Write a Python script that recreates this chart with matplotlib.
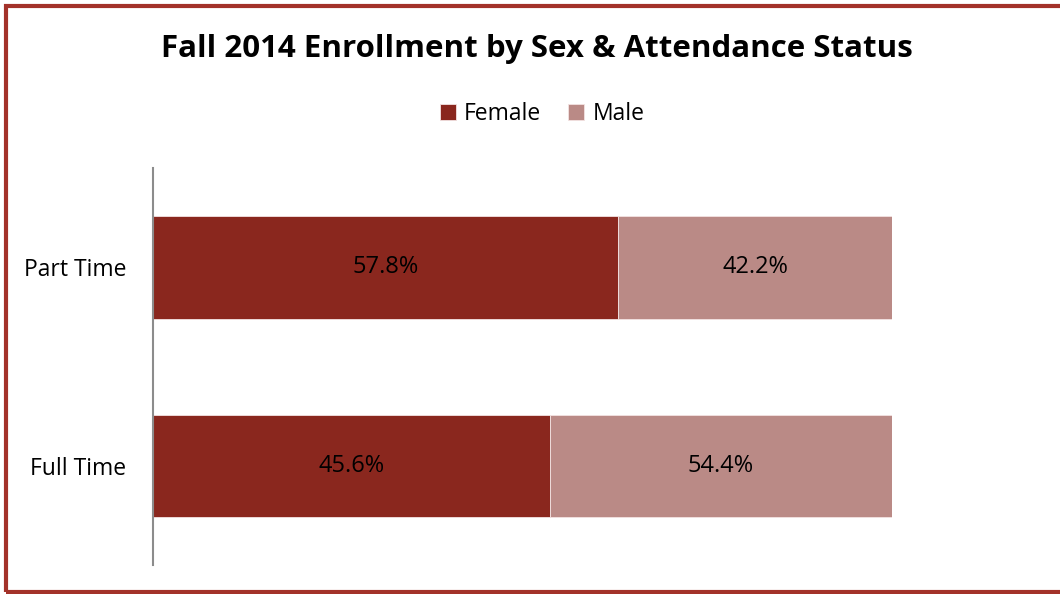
import matplotlib.pyplot as plt
from matplotlib.patches import Rectangle
import numpy as np

categories = ['Full Time', 'Part Time']
# bar lengths as drawn in the picture (share of the full bar)
female_share = [53.7, 63.0]
male_share = [46.3, 37.0]
# printed labels
female_labels = ['45.6%', '57.8%']
male_labels = ['54.4%', '42.2%']

female_color = '#8A271E'
male_color = '#BA8A86'

plt.rcParams['font.family'] = ['Open Sans', 'DejaVu Sans']

fig = plt.figure(figsize=(10.6, 5.94), dpi=100)
ax = fig.add_axes([0.1443, 0.0488, 0.697, 0.668])

y = np.arange(len(categories))
h = 0.515
b1 = ax.barh(y, female_share, height=h, color=female_color, label='Female',
             edgecolor='#F3E3E2', linewidth=0.6)
b2 = ax.barh(y, male_share, left=female_share, height=h, color=male_color, label='Male',
             edgecolor='#F3E3E2', linewidth=0.6)

for i in range(len(categories)):
    ax.text(female_share[i] / 2, y[i], female_labels[i], ha='center', va='center', fontsize=17)
    ax.text(female_share[i] + male_share[i] / 2, y[i], male_labels[i], ha='center', va='center', fontsize=17)

ax.set_xlim(0, 100)
ax.set_ylim(-0.5, 1.5)
ax.set_yticks(y)
ax.set_yticklabels(categories, fontsize=16.5)
ax.tick_params(axis='y', length=0, pad=19)
ax.set_xticks([])
for s in ['top', 'right', 'bottom']:
    ax.spines[s].set_visible(False)
ax.spines['left'].set_color('#8C8C8C')
ax.spines['left'].set_linewidth(1.5)

fig.text(537 / 1060, 1 - 49 / 594, 'Fall 2014 Enrollment by Sex & Attendance Status',
         ha='center', va='center', fontsize=22.5, fontweight='bold')
fig.legend(handles=[b1, b2], loc='center', bbox_to_anchor=(542 / 1060, 1 - 114 / 594),
           ncol=2, frameon=False, fontsize=16.5, handlelength=0.7, handleheight=0.7,
           handletextpad=0.35, columnspacing=1.2)

fig.patches.append(Rectangle((6 / 1060, 2 / 594), 1.1, 1 - 8 / 594, transform=fig.transFigure,
                             fill=False, edgecolor='#A3322A', linewidth=3, clip_on=False))

fig.savefig('out.png', dpi=100)
